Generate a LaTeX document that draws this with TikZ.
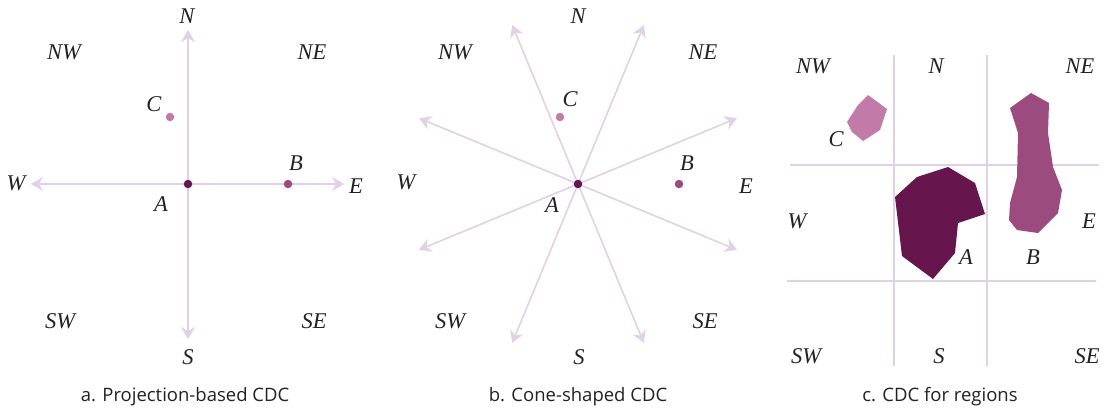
\documentclass[tikz,border=0pt]{standalone}
\usepackage{fontspec}
\setmainfont{Liberation Serif}
\newfontfamily\capfont{Open Sans}
\usetikzlibrary{arrows.meta,calc}
\definecolor{axis}{HTML}{E2D0E6}
\definecolor{colA}{HTML}{66154D}
\definecolor{colB}{HTML}{9B4B7D}
\definecolor{colC}{HTML}{C27BA8}
\definecolor{txt}{HTML}{222222}
\tikzset{
  lbl/.style={font=\fontsize{22.5}{22.5}\selectfont\itshape, text=txt, inner sep=0pt, anchor=center},
  captext/.style={font=\capfont\fontsize{18.5}{20}\selectfont, text=txt, inner sep=0pt, anchor=center},
  axisline/.style={draw=axis, line width=1.6pt, -{Stealth[length=12pt,width=14pt,inset=4pt]}},
  gridline/.style={draw=axis, line width=1.6pt},
  dotp/.style={circle, inner sep=0pt, minimum size=8.5pt, fill=#1},
}
\begin{document}
\begin{tikzpicture}[x=1pt,y=-1pt]
\useasboundingbox[fill=white] (0,0) rectangle (1110,413);

% ---------- panel a ----------
\coordinate (aN) at (188,30);
\coordinate (aS) at (188,339);
\coordinate (aW) at (31,184);
\coordinate (aE) at (344,184);
\coordinate (aA) at (188,184);
\draw[axisline] (aA) -- (aN);
\draw[axisline] (aA) -- (aS);
\draw[axisline] (aA) -- (aW);
\draw[axisline] (aA) -- (aE);
\node[dotp=colA] (adA) at (aA) {};
\node[dotp=colB] (adB) at (288,184) {};
\node[dotp=colC] (adC) at (170,117) {};
\node[lbl] (alA) at (161,204) {A};
\node[lbl] (alB) at (296,163) {B};
\node[lbl] (alC) at (154,104) {C};
\node[lbl] (aln) at (187,16) {N};
\node[lbl] (als) at (188,357) {S};
\node[lbl] (alw) at (16,183) {W};
\node[lbl] (ale) at (356,186) {E};
\node[lbl] (alnw) at (64,52) {NW};
\node[lbl] (alne) at (312,52) {NE};
\node[lbl] (alsw) at (60,321) {SW};
\node[lbl] (alse) at (314,321) {SE};
\node[captext] (capa) at (185,397) {a. Projection-based CDC};

% ---------- panel b ----------
\coordinate (bA) at (578,184);
\foreach \ang [count=\i] in {22.5,67.5,112.5,157.5,202.5,247.5,292.5,337.5}{
  \coordinate (bT\i) at ($(bA)+(\ang:172)$);
  \draw[axisline] (bA) -- (bT\i);
}
\node[dotp=colA] (bdA) at (bA) {};
\node[dotp=colB] (bdB) at (679,184) {};
\node[dotp=colC] (bdC) at (560,117) {};
\node[lbl] (blA) at (552,205) {A};
\node[lbl] (blB) at (687,163) {B};
\node[lbl] (blC) at (570,99) {C};
\node[lbl] (bln) at (578,16) {N};
\node[lbl] (bls) at (579,357) {S};
\node[lbl] (blw) at (406,182) {W};
\node[lbl] (ble) at (746,186) {E};
\node[lbl] (blnw) at (455,52) {NW};
\node[lbl] (blne) at (703,52) {NE};
\node[lbl] (blsw) at (450,321) {SW};
\node[lbl] (blse) at (705,321) {SE};
\node[captext] (capb) at (578,397) {b. Cone-shaped CDC};

% ---------- panel c ----------
\draw[gridline] (894,55) -- (894,366);
\draw[gridline] (987,55) -- (987,366);
\draw[gridline] (790,165) -- (1099,165);
\draw[gridline] (787,281) -- (1096,281);
\fill[colC] (868,95) -- (887,109) -- (880,130) -- (863,141) -- (852,132) -- (847,122) -- (858,105) -- cycle;
\fill[colA] (895,197) -- (917,177) -- (948,167) -- (975,183) -- (985,214) -- (958,223) -- (955,253) -- (933,279) -- (902,256) -- cycle;
\fill[colB] (1010,108) -- (1031,93) -- (1049,103) -- (1048,133) -- (1053,167) -- (1062,190) -- (1058,213) -- (1038,233) -- (1017,230) -- (1009,220) -- (1010,203) -- (1017,177) -- (1018,133) -- cycle;
\node[lbl] (clA) at (966,257) {A};
\node[lbl] (clB) at (1033,257) {B};
\node[lbl] (clC) at (836,139) {C};
\node[lbl] (cln) at (936,66) {N};
\node[lbl] (cls) at (939,356) {S};
\node[lbl] (clw) at (797,221) {W};
\node[lbl] (cle) at (1089,221) {E};
\node[lbl] (clnw) at (813,66) {NW};
\node[lbl] (clne) at (1080,66) {NE};
\node[lbl] (clsw) at (806,356) {SW};
\node[lbl] (clse) at (1087,356) {SE};
\node[captext] (capc) at (940,397) {c. CDC for regions};
\end{tikzpicture}
\end{document}
